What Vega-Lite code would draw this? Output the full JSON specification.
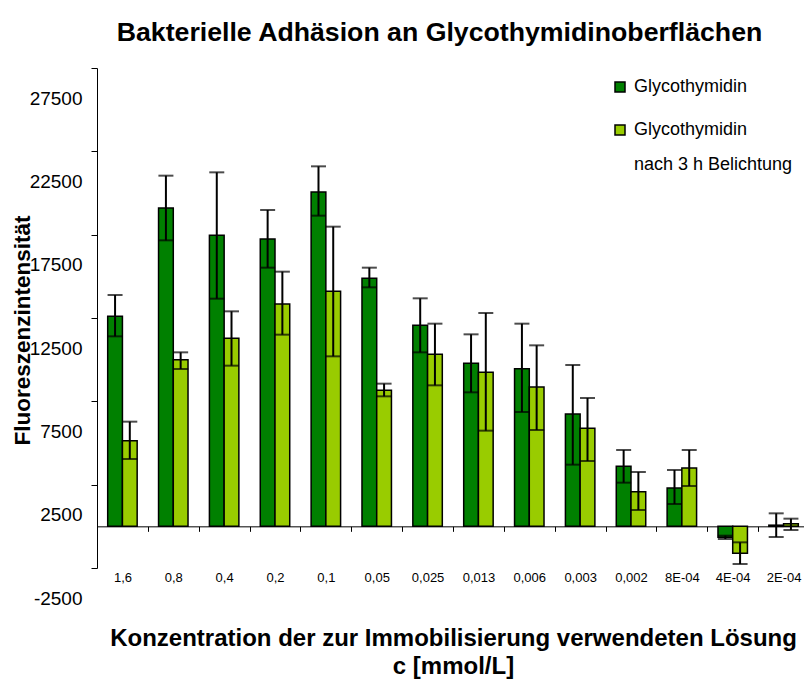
{
  "$schema": "https://vega.github.io/schema/vega-lite/v6.json",
  "width": 707,
  "height": 500,
  "autosize": {"type": "none"},
  "padding": {"left": 97, "top": 68, "right": 0, "bottom": 111},
  "background": "white",
  "config": {"font": "Liberation Sans", "view": {"stroke": null}, "style": {"guide-label": {"lineHeight": 35}}},
  "title": {"text": "Bakterielle Adhäsion an Glycothymidinoberflächen", "fontSize": 26.7, "fontWeight": "bold", "color": "black", "anchor": "middle", "dx": -11, "baseline": "alphabetic", "offset": 0},
  "data": {"values": [
    {"c": "1,6", "s": "Glycothymidin", "v": 12600, "lo": 11400, "hi": 13880},
    {"c": "1,6", "s": "Glycothymidin nach 3 h Belichtung", "v": 5140, "lo": 4040, "hi": 6280},
    {"c": "0,8", "s": "Glycothymidin", "v": 19100, "lo": 17160, "hi": 21040},
    {"c": "0,8", "s": "Glycothymidin nach 3 h Belichtung", "v": 10000, "lo": 9440, "hi": 10440},
    {"c": "0,4", "s": "Glycothymidin", "v": 17460, "lo": 13660, "hi": 21240},
    {"c": "0,4", "s": "Glycothymidin nach 3 h Belichtung", "v": 11280, "lo": 9640, "hi": 12900},
    {"c": "0,2", "s": "Glycothymidin", "v": 17240, "lo": 15520, "hi": 18980},
    {"c": "0,2", "s": "Glycothymidin nach 3 h Belichtung", "v": 13340, "lo": 11500, "hi": 15280},
    {"c": "0,1", "s": "Glycothymidin", "v": 20060, "lo": 18640, "hi": 21600},
    {"c": "0,1", "s": "Glycothymidin nach 3 h Belichtung", "v": 14100, "lo": 10200, "hi": 17980},
    {"c": "0,05", "s": "Glycothymidin", "v": 14880, "lo": 14340, "hi": 15520},
    {"c": "0,05", "s": "Glycothymidin nach 3 h Belichtung", "v": 8160, "lo": 7800, "hi": 8560},
    {"c": "0,025", "s": "Glycothymidin", "v": 12060, "lo": 10440, "hi": 13680},
    {"c": "0,025", "s": "Glycothymidin nach 3 h Belichtung", "v": 10320, "lo": 8460, "hi": 12160},
    {"c": "0,013", "s": "Glycothymidin", "v": 9780, "lo": 8040, "hi": 11520},
    {"c": "0,013", "s": "Glycothymidin nach 3 h Belichtung", "v": 9240, "lo": 5740, "hi": 12800},
    {"c": "0,006", "s": "Glycothymidin", "v": 9460, "lo": 6860, "hi": 12160},
    {"c": "0,006", "s": "Glycothymidin nach 3 h Belichtung", "v": 8360, "lo": 5780, "hi": 10860},
    {"c": "0,003", "s": "Glycothymidin", "v": 6740, "lo": 3700, "hi": 9680},
    {"c": "0,003", "s": "Glycothymidin nach 3 h Belichtung", "v": 5880, "lo": 3920, "hi": 7700},
    {"c": "0,002", "s": "Glycothymidin", "v": 3600, "lo": 2620, "hi": 4580},
    {"c": "0,002", "s": "Glycothymidin nach 3 h Belichtung", "v": 2080, "lo": 980, "hi": 3260},
    {"c": "8E-04", "s": "Glycothymidin", "v": 2300, "lo": 1340, "hi": 3380},
    {"c": "8E-04", "s": "Glycothymidin nach 3 h Belichtung", "v": 3500, "lo": 2420, "hi": 4580},
    {"c": "4E-04", "s": "Glycothymidin", "v": -660, "lo": -760, "hi": -560},
    {"c": "4E-04", "s": "Glycothymidin nach 3 h Belichtung", "v": -1620, "lo": -2260, "hi": -960},
    {"c": "2E-04", "s": "Glycothymidin", "v": 70, "lo": -640, "hi": 780},
    {"c": "2E-04", "s": "Glycothymidin nach 3 h Belichtung", "v": 150, "lo": -220, "hi": 460}
  ]},
  "encoding": {
    "x": {
      "field": "c", "type": "nominal", "sort": null,
      "scale": {"range": [0, 712], "paddingInner": 0, "paddingOuter": 0},
      "axis": {
        "orient": "bottom", "offset": -41.67, "domainColor": "black", "domainWidth": 1,
        "tickColor": "black", "tickSize": 5, "tickBand": "extent",
        "labelFontSize": 13, "labelColor": "black", "labelPadding": 40.6, "labelAngle": 0,
        "title": ["Konzentration der zur Immobilisierung verwendeten Lösung", "c [mmol/L]"],
        "titleFontSize": 24, "titleFontWeight": "bold", "titleColor": "black", "titleLineHeight": 28,
        "titleBaseline": "alphabetic", "titleY": 119.3, "titleX": 356, "titleAlign": "center"
      }
    },
    "xOffset": {"field": "s", "type": "nominal", "scale": {"paddingOuter": 0.726, "paddingInner": 0}}
  },
  "layer": [
    {
      "mark": {"type": "bar", "stroke": "black", "strokeWidth": 1.5},
      "encoding": {
        "y": {
          "field": "v", "type": "quantitative",
          "scale": {"domain": [-2500, 27500], "nice": false, "zero": false},
          "axis": {
            "values": [-2500, 2500, 7500, 12500, 17500, 22500, 27500], "grid": false,
            "labelExpr": "datum.value < 0 ? '-' + abs(datum.value) : '' + datum.value",
            "domainColor": "black", "tickColor": "black", "tickSize": 6,
            "labelFontSize": 19, "labelColor": "black", "labelOffset": 30, "labelPadding": 9,
            "labelFlush": false, "labelOverlap": false, "labelBound": false,
            "title": "Fluoreszenzintensität", "titleFontSize": 22.5, "titleFontWeight": "bold", "titleColor": "black",
            "titleX": -75, "titleY": 262, "titleAngle": -90, "titleAlign": "center", "titleBaseline": "middle"
          }
        },
        "color": {
          "field": "s", "type": "nominal",
          "scale": {"range": ["#008000", "#99CC00"]},
          "legend": {
            "title": null, "orient": "none", "legendX": 514, "legendY": 10, "padding": 0,
            "symbolType": "square", "symbolSize": 100, "symbolStrokeColor": "black", "symbolStrokeWidth": 1.5,
            "labelFontSize": 18, "labelColor": "black", "labelLimit": 0, "labelOffset": 5, "rowPadding": 25,
            "labelExpr": "datum.label == 'Glycothymidin' ? datum.label : ['Glycothymidin', 'nach 3 h Belichtung']",
            "labelBaseline": "middle"
          }
        }
      }
    },
    {
      "mark": {"type": "rule", "color": "black", "strokeWidth": 2},
      "encoding": {"y": {"field": "lo", "type": "quantitative"}, "y2": {"field": "hi"}}
    },
    {
      "mark": {"type": "tick", "color": "black", "thickness": 2, "size": 15},
      "encoding": {"y": {"field": "lo", "type": "quantitative"}}
    },
    {
      "mark": {"type": "tick", "color": "black", "thickness": 2, "size": 15},
      "encoding": {"y": {"field": "hi", "type": "quantitative"}}
    }
  ]
}
